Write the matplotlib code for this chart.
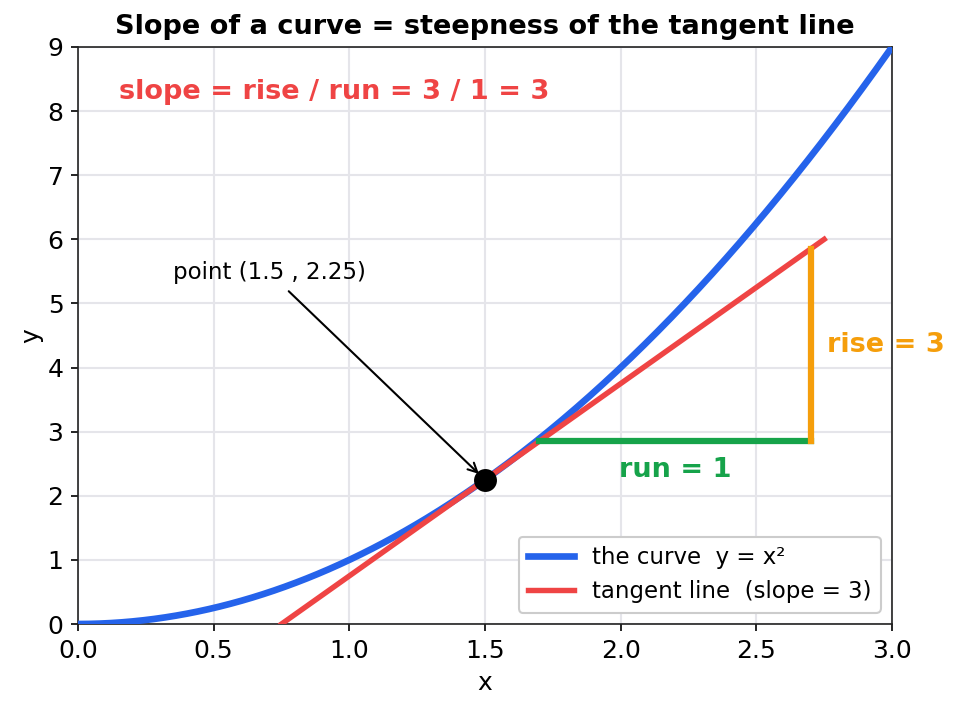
import matplotlib
matplotlib.use("Agg")
import matplotlib.pyplot as plt
import numpy as np

# curve y = x^2 and its tangent at x0
x0 = 1.5
y0 = x0 ** 2
slope = 2 * x0
curve_x = np.linspace(0, 3, 300)
tan_x = np.array([0.75, 2.75])

# rise / run triangle
run_start = 1.7
run_len = 1.0
rise_len = slope * run_len

blue = "#2563eb"
red = "#ef4444"
green = "#16a34a"
orange = "#f59e0b"

fig = plt.figure(figsize=(959 / 150, 710 / 150), dpi=150)
ax = fig.add_axes([78 / 959, 1 - 624 / 710, (892 - 78) / 959, (624 - 47) / 710])

ax.plot(curve_x, curve_x ** 2, color=blue, lw=3.2, label="the curve  y = x\u00b2", zorder=3)
ax.plot(tan_x, y0 + slope * (tan_x - x0), color=red, lw=2.6,
        label="tangent line  (slope = 3)", zorder=3)

ry = y0 + slope * (run_start - x0)
ax.plot([run_start, run_start + run_len], [ry, ry], color=green, lw=3, zorder=4)
ax.plot([run_start + run_len, run_start + run_len], [ry, ry + rise_len],
        color=orange, lw=3, zorder=4)

ax.plot([x0], [y0], "o", color="black", ms=10, zorder=6)

ax.text(run_start + run_len / 2, ry - 0.25, "run = 1", color=green,
        fontsize=13, fontweight="bold", ha="center", va="top")
ax.text(run_start + run_len + 0.06, ry + rise_len / 2, "rise = 3", color=orange,
        fontsize=13, fontweight="bold", ha="left", va="center", clip_on=False)
ax.text(0.15, 8.3, "slope = rise / run = 3 / 1 = 3", color=red,
        fontsize=13, fontweight="bold", ha="left", va="center")

ax.annotate("point (1.5 , 2.25)", xy=(x0, y0), xytext=(0.35, 5.48),
            fontsize=11, ha="left", va="center",
            arrowprops=dict(arrowstyle="->", color="black", lw=1,
                            shrinkA=2, shrinkB=4))

ax.set_xlim(0, 3)
ax.set_ylim(0, 9)
ax.set_xticks(np.arange(0, 3.01, 0.5))
ax.set_yticks(np.arange(0, 10, 1))
ax.tick_params(labelsize=12)
ax.set_xlabel("x", fontsize=12)
ax.set_ylabel("y", fontsize=12, labelpad=2)
ax.set_title("Slope of a curve = steepness of the tangent line",
             fontsize=13, fontweight="bold", pad=6)
ax.grid(True, color="#e5e5ea", lw=1)
ax.set_axisbelow(True)
for s in ax.spines.values():
    s.set_color("#222222")

ax.legend(loc="lower right", fontsize=11, framealpha=1, edgecolor="#cccccc")

fig.savefig("out.png", dpi=150)
